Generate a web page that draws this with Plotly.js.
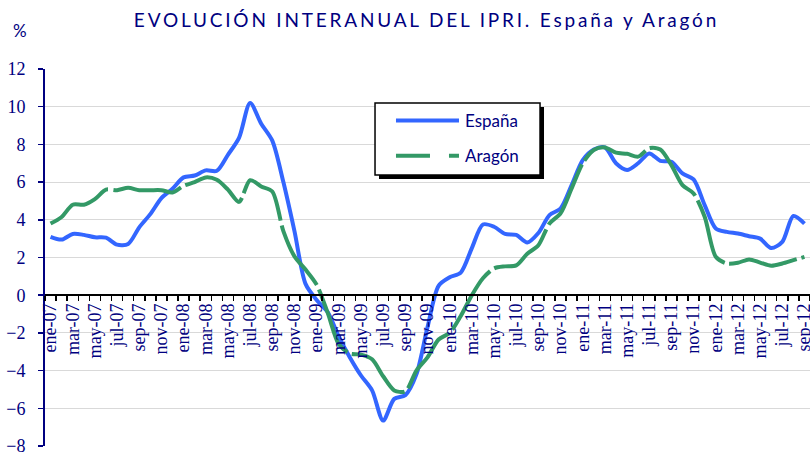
<!DOCTYPE html>
<html><head><meta charset="utf-8">
<script src="https://cdn.plot.ly/plotly-3.0.1.min.js"></script>
<style>html,body{margin:0;padding:0;background:#fff}#chart{width:810px;height:452px}
#chart .gtitle{letter-spacing:2.8px}</style>
</head><body><div id="chart"></div>
<script>
const months = ['ene-07','feb-07','mar-07','abr-07','may-07','jun-07','jul-07','ago-07','sep-07','oct-07','nov-07','dic-07',
'ene-08','feb-08','mar-08','abr-08','may-08','jun-08','jul-08','ago-08','sep-08','oct-08','nov-08','dic-08',
'ene-09','feb-09','mar-09','abr-09','may-09','jun-09','jul-09','ago-09','sep-09','oct-09','nov-09','dic-09',
'ene-10','feb-10','mar-10','abr-10','may-10','jun-10','jul-10','ago-10','sep-10','oct-10','nov-10','dic-10',
'ene-11','feb-11','mar-11','abr-11','may-11','jun-11','jul-11','ago-11','sep-11','oct-11','nov-11','dic-11',
'ene-12','feb-12','mar-12','abr-12','may-12','jun-12','jul-12','ago-12','sep-12'];

const espana = [3.1,2.95,3.25,3.2,3.07,3.05,2.68,2.72,3.6,4.3,5.15,5.65,
6.25,6.35,6.62,6.6,7.45,8.35,10.2,9.1,8.2,6.0,3.4,0.6,
-0.25,-0.9,-2.2,-3.3,-4.26,-5.05,-6.65,-5.5,-5.3,-4.2,-1.7,0.5,
0.95,1.2,2.5,3.75,3.63,3.25,3.2,2.8,3.3,4.25,4.6,5.84,
7.17,7.73,7.84,7.0,6.64,7.0,7.52,7.13,7.08,6.46,6.14,4.78,
3.54,3.36,3.27,3.13,3.0,2.5,2.83,4.2,3.8];

const aragon = [3.8,4.15,4.8,4.8,5.1,5.6,5.57,5.7,5.57,5.57,5.57,5.45,
5.8,6.0,6.25,6.12,5.6,4.95,6.1,5.77,5.5,3.4,2.06,1.36,
0.56,-0.94,-2.6,-3.1,-3.15,-3.4,-4.3,-5.05,-5.1,-4.0,-3.3,-2.35,
-2.0,-1.1,0.0,0.9,1.42,1.53,1.58,2.2,2.65,3.8,4.34,5.66,
7.0,7.7,7.84,7.56,7.5,7.35,7.8,7.73,6.9,5.84,5.4,4.16,
2.04,1.68,1.72,1.9,1.73,1.56,1.68,1.86,2.03];

const seriesNames = ['España','Aragón'];
const yTickVals = [-8,-6,-4,-2,0,2,4,6,8,10,12];
const titleText = 'EVOLUCIÓN INTERANUAL DEL IPRI. España y Aragón';
const unitLabel = '%';

const navy = '#000080';
const idx = months.map((m,i)=>i);
const labelIdx = idx.filter(i=>i%2===0);
const boundaries = idx.map(i=>i-0.5).concat([months.length-0.5]);

const traces = [
  {x: idx, y: espana, name: seriesNames[0], type:'scatter', mode:'lines', legendgroup:'a',
   line:{color:'#3366FF', width:4, shape:'spline', smoothing:0.8}, hoverinfo:'skip'},
  {x: idx, y: aragon, name: seriesNames[1], type:'scatter', mode:'lines', legendgroup:'b',
   line:{color:'#339966', width:4, shape:'spline', smoothing:0.8, dash:'70px,5px'}, hoverinfo:'skip'}
];

const layout = {
  width:810, height:452,
  margin:{l:45, r:0, t:69, b:6, pad:0},
  paper_bgcolor:'#ffffff', plot_bgcolor:'#ffffff',
  title:{text:titleText, xref:'container', yref:'container', x:0.5265, y:0.956, xanchor:'center', yanchor:'middle',
    font:{family:'Lato', size:19, color:navy}},
  showlegend:true,
  legend:{x:0.4575, y:0.9098, xanchor:'left', yanchor:'top', bgcolor:'rgba(0,0,0,0)', borderwidth:0,
    font:{family:'Lato', size:17, color:navy}, tracegroupgap:10, traceorder:'grouped', itemwidth:60},
  xaxis:{range:[-0.5, months.length-0.5], anchor:'free', position:0.4, showline:true, linecolor:'#000', linewidth:2,
    tickmode:'array', tickvals:labelIdx, ticktext:labelIdx.map(i=>months[i]), ticks:'', tickangle:-90,
    tickfont:{family:'Liberation Serif', size:18, color:navy}, showgrid:false, zeroline:false, ticklabeloverflow:'allow',
    minor:{tickmode:'array', tickvals:boundaries, ticks:'outside', ticklen:5, tickwidth:1.5, tickcolor:'#000', showgrid:false},
    fixedrange:true},
  yaxis:{range:[-8,12], tickmode:'array', tickvals:yTickVals, ticks:'outside', ticklen:5, tickwidth:1.5, tickcolor:navy,
    showline:true, linecolor:navy, linewidth:2, showgrid:true, gridcolor:'#d9d9d9', gridwidth:1, zeroline:false,
    tickfont:{family:'Liberation Serif', size:18, color:navy}, ticklabelstandoff:9, ticklabeloverflow:'allow', fixedrange:true},
  shapes:[
    {type:'rect', xref:'paper', yref:'paper', x0:0.4366, x1:0.6523, y0:0.7082, y1:0.8992, fillcolor:'#000', line:{width:0}, layer:'above'},
    {type:'rect', xref:'paper', yref:'paper', x0:0.4314, x1:0.6471, y0:0.7188, y1:0.9098, fillcolor:'#fff', line:{color:'#000', width:1.5}, layer:'above'}
  ],
  annotations:[
    {text:unitLabel, xref:'paper', yref:'paper', x:-0.0327, y:1.103, xanchor:'center', yanchor:'middle', showarrow:false,
     font:{family:'Lato', size:17, color:navy}}
  ]
};

Plotly.newPlot('chart', traces, layout, {displayModeBar:false, staticPlot:true}).then(function(gd){
  // lengthen the legend line samples to match the reference's legend key
  var items = gd.querySelectorAll('.legend .traces');
  items.forEach(function(item, k){
    item.querySelectorAll('.legendlines path').forEach(function(p){
      p.setAttribute('d', 'M1,0h63');
      if (k === 1) p.style.strokeDasharray = '34px,19px';
    });
  });
});
</script></body></html>
